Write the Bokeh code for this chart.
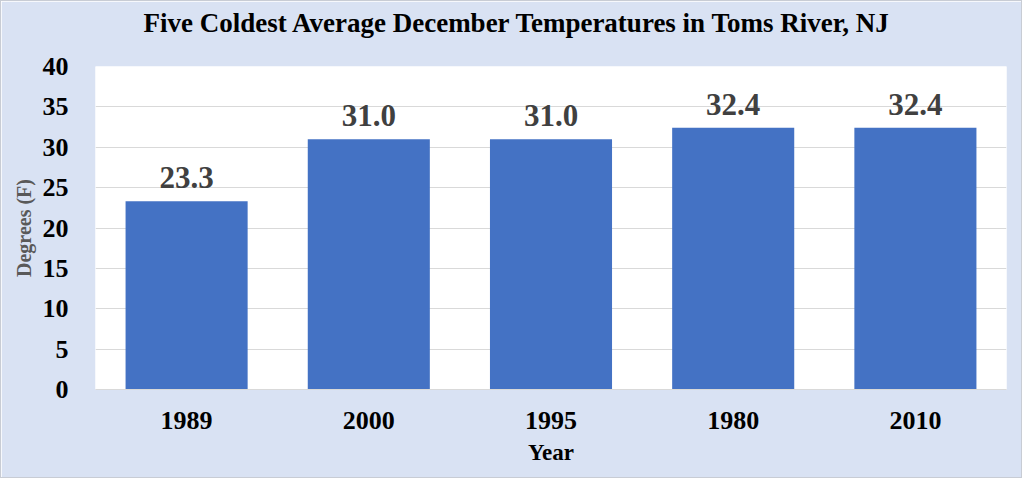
from bokeh.plotting import figure
from bokeh.models import ColumnDataSource, LabelSet, Title, Range1d, FactorRange, SingleIntervalTicker
from bokeh.embed import file_html
from bokeh.resources import INLINE

title_text = "Five Coldest Average December Temperatures in Toms River, NJ"
years = ["1989", "2000", "1995", "1980", "2010"]
temps = [23.3, 31.0, 31.0, 32.4, 32.4]
labels = ["23.3", "31.0", "31.0", "32.4", "32.4"]

src = ColumnDataSource(dict(years=years, temps=temps, labels=labels))

FONT = "'Times New Roman', 'Liberation Serif', serif"
BG = "#D9E2F3"

p = figure(x_range=FactorRange(*years), y_range=Range1d(0, 40),
           width=1022, height=478, output_backend="svg", toolbar_location=None,
           title=title_text,
           min_border_left=94, min_border_right=17, min_border_top=65, min_border_bottom=90)
p.styles = {"border": "1px solid #C8CCD4"}

p.background_fill_color = "white"
p.border_fill_color = BG
p.outline_line_color = None

p.title.align = "left"
p.title.offset = 48
p.title.text_font = FONT
p.title.text_font_size = "27px"
p.title.text_font_style = "bold"
p.title.text_color = "black"
p.title.standoff = 8

# empty spacer between title and plot area
p.add_layout(Title(text=" ", text_font_size="1px", standoff=22), "above")

p.vbar(x="years", top="temps", width=0.67, source=src, fill_color="#4472C4", line_color=None)

lab = LabelSet(x="years", y="temps", text="labels", source=src, text_align="center",
               text_baseline="bottom", y_offset=13, text_font=FONT, text_font_size="31px",
               text_font_style="bold", text_color="#404040")
p.add_layout(lab)

# y axis
p.yaxis.ticker = SingleIntervalTicker(interval=5)
p.yaxis.axis_line_color = None
p.yaxis.major_tick_line_color = None
p.yaxis.minor_tick_line_color = None
p.yaxis.major_tick_out = 0
p.yaxis.major_tick_in = 0
p.yaxis.major_label_text_font = FONT
p.yaxis.major_label_text_font_size = "26px"
p.yaxis.major_label_text_font_style = "bold"
p.yaxis.major_label_text_color = "black"
p.yaxis.major_label_standoff = 23
p.yaxis.axis_label = "Degrees (F)"
p.yaxis.axis_label_text_font = FONT
p.yaxis.axis_label_text_font_size = "20px"
p.yaxis.axis_label_text_font_style = "bold"
p.yaxis.axis_label_text_color = "#595959"
p.yaxis.axis_label_standoff = 5

# x axis
p.xaxis.axis_line_color = "#D9D9D9"
p.xaxis.major_tick_line_color = None
p.xaxis.minor_tick_line_color = None
p.xaxis.major_tick_out = 0
p.xaxis.major_tick_in = 0
p.xaxis.major_label_text_font = FONT
p.xaxis.major_label_text_font_size = "26px"
p.xaxis.major_label_text_font_style = "bold"
p.xaxis.major_label_text_color = "black"
p.xaxis.major_label_standoff = 22
p.xaxis.axis_label = "Year"
p.xaxis.axis_label_text_font = FONT
p.xaxis.axis_label_text_font_size = "23px"
p.xaxis.axis_label_text_font_style = "bold"
p.xaxis.axis_label_text_color = "black"
p.xaxis.axis_label_standoff = 8

p.xgrid.grid_line_color = None
p.ygrid.grid_line_color = "#D9D9D9"
p.ygrid.grid_line_width = 1

open("out.html", "w").write(file_html(p, INLINE))
